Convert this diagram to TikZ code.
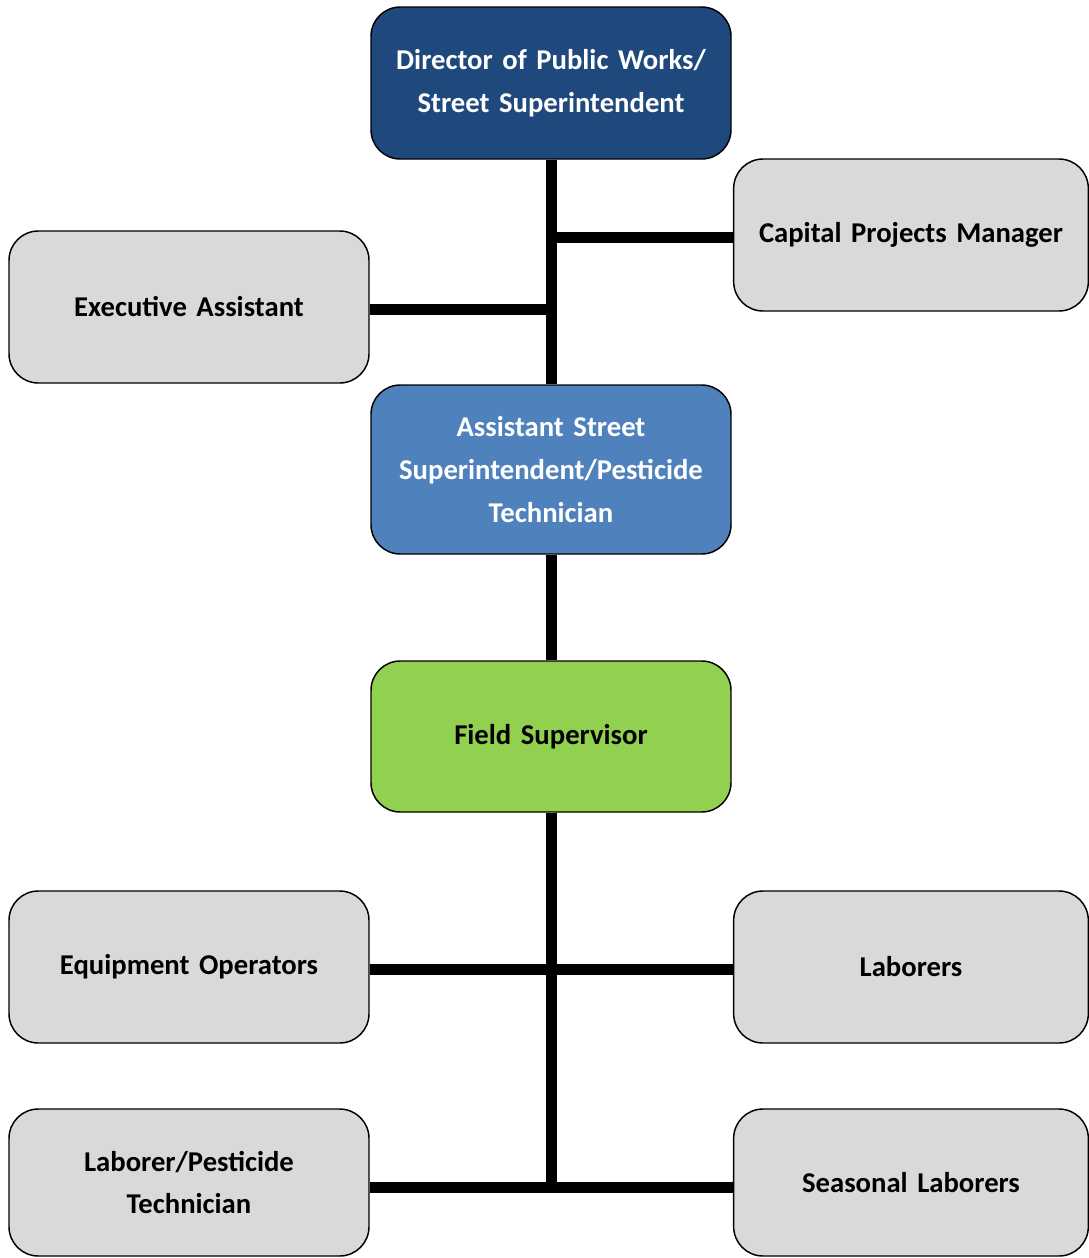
\documentclass[tikz,border=0pt]{standalone}
\usepackage{fontspec}
\setmainfont{Carlito}
\definecolor{navy}{HTML}{1F497D}
\definecolor{midblue}{HTML}{4F81BD}
\definecolor{leaf}{HTML}{92D050}
\definecolor{panel}{HTML}{D9D9D9}
\begin{document}
\begin{tikzpicture}[x=0.75pt,y=-0.75pt,
  box/.style={draw=black,line width=1.1pt,rounded corners=22pt,
    minimum width=270pt,minimum height=114pt,text width=266pt,align=center,
    font=\fontsize{21.5}{32}\selectfont\bfseries,inner sep=0pt},
  staff/.style={box,fill=panel,text=black},
  link/.style={line width=8.25pt,black}]
\useasboundingbox (0,0) rectangle (1089,1258);
% org units
\node[box,fill=navy,text=white] (dir) at (551,83) {Director of Public Works/\\Street Superintendent};
\node[staff,minimum width=266pt] (cap) at (911,235) {Capital Projects Manager};
\node[staff] (exec) at (189,307) {Executive Assistant};
\node[box,fill=midblue,text=white,minimum height=126.75pt] (asst) at (551,469.5) {Assistant Street\\Superintendent/Pesticide\\Technician};
\node[box,fill=leaf,text=black,minimum height=113.25pt] (field) at (551,736.5) {Field Supervisor};
\node[staff] (equip) at (189,967) {Equipment Operators};
\node[staff,minimum width=266pt] (lab) at (911,967) {Laborers};
\node[staff,minimum height=110.25pt] (lpt) at (189,1182.5) {Laborer/Pesticide\\Technician};
\node[staff,minimum width=266pt,minimum height=110.25pt] (seas) at (911,1182.5) {Seasonal Laborers};
% reporting lines
\coordinate (capj) at (551,237);
\coordinate (execj) at (551,309);
\coordinate (opsj) at (551,969);
\coordinate (lowj) at (551,1187);
\draw[link] (capj) -- (cap.west |- capj);
\draw[link] (exec.east |- execj) -- (execj);
\draw[link] (dir.south) -- (asst.north);
\draw[link] (asst.south) -- (field.north);
\draw[link] (field.south) -- (lowj);
\draw[link] (equip.east |- opsj) -- (lab.west |- opsj);
\draw[link] (lpt.east |- lowj) -- (seas.west |- lowj);
\end{tikzpicture}
\end{document}
